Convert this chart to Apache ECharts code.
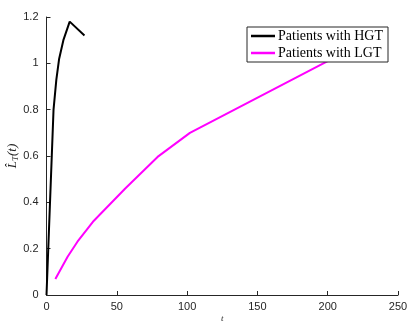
<!DOCTYPE html>
<html><head><meta charset="utf-8">
<script src="https://cdn.jsdelivr.net/npm/echarts@6/dist/echarts.min.js"></script>
<style>html,body{margin:0;padding:0;background:#fff}#c{width:407px;height:321px}</style>
</head><body><div id="c"></div>
<script>
const hgtT = [0, 2.5, 5, 7, 9, 12, 16.5, 27];
const hgtL = [0, 0.4, 0.8, 0.93, 1.02, 1.1, 1.18, 1.12];
const lgtT = [6.3, 15, 22, 33, 56, 79, 102, 200];
const lgtL = [0.069, 0.165, 0.23, 0.316, 0.46, 0.596, 0.70, 1.01];
const xTicks = [0, 50, 100, 150, 200, 250];
const yTicks = [0, 0.2, 0.4, 0.6, 0.8, 1, 1.2];
const seriesNames = ['Patients with HGT', 'Patients with LGT'];

const chart = echarts.init(document.getElementById('c'));
const axisCol = '#262626';
chart.setOption({
  animation: false,
  grid: {left: 46.5, right: 9, top: 17, bottom: 26, containLabel: false, outerBoundsMode: 'none'},
  xAxis: {
    type: 'value', min: xTicks[0], max: xTicks[xTicks.length-1], interval: 50,
    name: 't', nameLocation: 'middle', nameGap: 19, nameMoveOverlap: false,
    nameTextStyle: {fontFamily: 'Liberation Serif', fontStyle: 'italic', fontSize: 9, color: axisCol},
    axisLine: {lineStyle: {color: axisCol, width: 1}},
    axisTick: {inside: true, length: 4, lineStyle: {color: axisCol}},
    axisLabel: {color: axisCol, fontFamily: 'Liberation Sans', fontSize: 11, margin: 6},
    splitLine: {show: false}
  },
  yAxis: {
    type: 'value', min: 0, max: 1.2, interval: 0.2,
    name: '{a|L̂}{b|T}{a|(t)}', nameLocation: 'middle', nameGap: 26, nameRotate: 90,
    nameMoveOverlap: false,
    nameTextStyle: {padding: [0, 0, 0, 0], rich: {
      a: {fontFamily: 'Liberation Serif', fontStyle: 'italic', fontSize: 13, color: axisCol},
      b: {fontFamily: 'Liberation Serif', fontStyle: 'italic', fontSize: 9, color: axisCol, verticalAlign: 'bottom', padding: [6,0,0,0]}
    }},
    axisLine: {show: true, lineStyle: {color: axisCol, width: 1}},
    axisTick: {show: true, inside: true, length: 4, lineStyle: {color: axisCol}},
    axisLabel: {color: axisCol, fontFamily: 'Liberation Sans', fontSize: 11, margin: 8,
      formatter: v => String(Math.round(v*10)/10)},
    splitLine: {show: false}
  },
  legend: {
    orient: 'vertical', right: 19, top: 27, z: 10,
    backgroundColor: '#fff', borderColor: axisCol, borderWidth: 1,
    padding: [2, 5, 2, 4], itemGap: 3, itemWidth: 24, itemHeight: 2.5,
    icon: 'rect',
    textStyle: {fontFamily: 'Liberation Serif', fontSize: 14, color: '#000', padding: [0,0,0,-2]},
    data: seriesNames
  },
  series: [
    {name: seriesNames[0], type: 'line', data: hgtT.map((t,i)=>[t,hgtL[i]]), smooth: false,
     showSymbol: false, lineStyle: {color: '#000', width: 2}, itemStyle: {color: '#000'}},
    {name: seriesNames[1], type: 'line', data: lgtT.map((t,i)=>[t,lgtL[i]]), smooth: false,
     showSymbol: false, lineStyle: {color: '#ff00ff', width: 2}, itemStyle: {color: '#ff00ff'}}
  ]
});
</script></body></html>
